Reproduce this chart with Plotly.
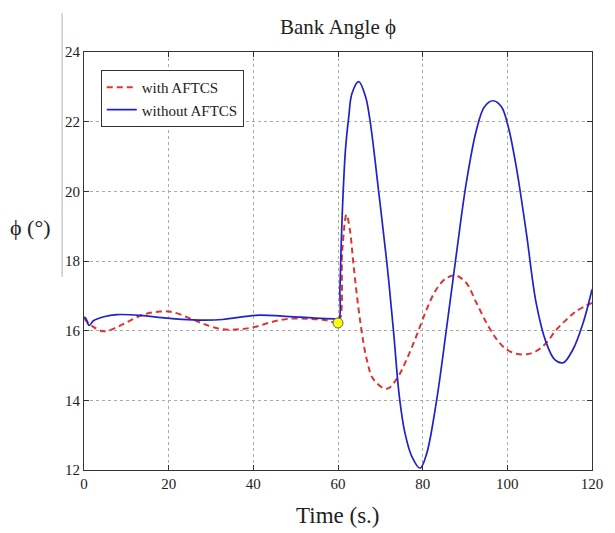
import plotly.graph_objects as go

# --- data ---
t_without = [0, 0.4, 1.2, 2.3, 4.7, 7.8, 13.3, 19.5, 25.7, 32.7, 40.5, 46.8, 54.6, 59.2, 60.2,
             60.46, 60.98, 61.76, 62.54, 63.3, 64.9, 66.5, 67.6, 69.6, 71.5, 73.1, 74.5, 75.8, 77.4, 79.4,
             80.9, 83.2, 85.6, 87.9, 90.3, 92.7, 94.6, 96.6, 98.6, 100.2, 102.1, 104.5, 106.8,
             109.2, 111.2, 113.2, 115.5, 117.9, 120]
phi_without = [16.38, 16.36, 16.15, 16.29, 16.40, 16.46, 16.44, 16.36, 16.31, 16.32, 16.44, 16.42, 16.36, 16.34, 16.34,
               17.2, 19.28, 21.19, 22.14, 22.81, 23.15, 22.72, 22.0, 20.0, 18.0, 16.0, 14.1, 13.07, 12.4, 12.05,
               12.45, 13.93, 16.03, 18.14, 20.24, 21.76, 22.43, 22.6, 22.43, 21.86, 20.71, 18.8, 16.8,
               15.65, 15.17, 15.08, 15.46, 16.22, 17.18]

t_with = [0, 2.3, 4.7, 7.8, 10.9, 14.0, 17.9, 21.0, 24.9, 28.8, 32.7, 36.6, 40.5, 44.4, 48.3, 53.0, 57.7, 60.0,
          61.0, 62.0, 62.8, 63.7, 65.3, 66.8, 68.4, 71.5, 73.8, 76.2, 78.5, 80.9, 83.2, 85.6, 87.9,
          90.3, 92.7, 95.1, 97.5, 99.8, 102.1, 104.5, 106.8, 109.2, 111.6, 114.0, 116.3, 120]
phi_with = [16.35, 16.10, 15.98, 16.10, 16.29, 16.46, 16.55, 16.53, 16.36, 16.17, 16.04, 16.04, 16.11, 16.25, 16.34, 16.34, 16.29, 16.22,
            18.3, 19.33, 18.9, 17.85, 16.22, 15.17, 14.6, 14.33, 14.6, 15.17, 15.84, 16.6, 17.18, 17.51, 17.58,
            17.37, 16.8, 16.22, 15.75, 15.46, 15.34, 15.32, 15.41, 15.65, 16.03, 16.32, 16.56, 16.8]

fault_t = [60]
fault_phi = [16.22]

x_ticks = [0, 20, 40, 60, 80, 100, 120]
y_ticks = [12, 14, 16, 18, 20, 22, 24]

SERIF = "Liberation Serif, Times New Roman, serif"

fig = go.Figure()
fig.add_trace(go.Scatter(x=t_with, y=phi_with, mode="lines", name="with AFTCS",
                         line=dict(color="#e03333", width=2, dash="6px,4px", shape="spline", smoothing=1.0)))
fig.add_trace(go.Scatter(x=t_without, y=phi_without, mode="lines", name="without AFTCS",
                         line=dict(color="#2222c8", width=1.7, shape="spline", smoothing=1.0)))
fig.add_trace(go.Scatter(x=fault_t, y=fault_phi, mode="markers", showlegend=False,
                         marker=dict(color="#ffff00", size=10, line=dict(color="#666666", width=1))))

axis_common = dict(showline=True, linecolor="#333333", linewidth=1, mirror="ticks",
                   ticks="inside", ticklen=5, tickcolor="#333333",
                   showgrid=True, gridcolor="#aaaaaa", griddash="dot", gridwidth=1,
                   zeroline=False, tickfont=dict(family=SERIF, size=15, color="#222222"))

fig.update_xaxes(range=[0, 120], tickvals=x_ticks, **axis_common)
fig.update_yaxes(range=[12, 24], tickvals=y_ticks, **axis_common)

fig.update_layout(
    width=615, height=533,
    margin=dict(l=84, r=16, t=52, b=63),
    paper_bgcolor="white", plot_bgcolor="white",
    font=dict(family=SERIF, color="#222222"),
    legend=dict(x=0.033, y=0.957, xanchor="left", yanchor="top",
                bordercolor="#333333", borderwidth=1, bgcolor="white",
                font=dict(family=SERIF, size=15, color="#222222"),
                tracegroupgap=0, itemwidth=30),
    annotations=[
        dict(text="Bank Angle ϕ", xref="paper", yref="paper", x=0.5, y=1.0, yshift=25,
             showarrow=False, font=dict(family=SERIF, size=21, color="#222222"), yanchor="middle"),
        dict(text="Time (s.)", xref="paper", yref="paper", x=0.5, y=0, yshift=-45,
             showarrow=False, font=dict(family=SERIF, size=23, color="#222222"), yanchor="middle"),
        dict(text="ϕ (°)", xref="paper", yref="paper", x=-0.105, y=0.581,
             showarrow=False, font=dict(family=SERIF, size=22, color="#222222"),
             xanchor="center", yanchor="middle"),
    ],
    shapes=[dict(type="line", xref="paper", yref="paper", x0=-0.043, x1=-0.043,
                 y0=1.093, y1=0.462, line=dict(color="#cccccc", width=1.5))],
    showlegend=True,
)

fig.write_html("out.html")
